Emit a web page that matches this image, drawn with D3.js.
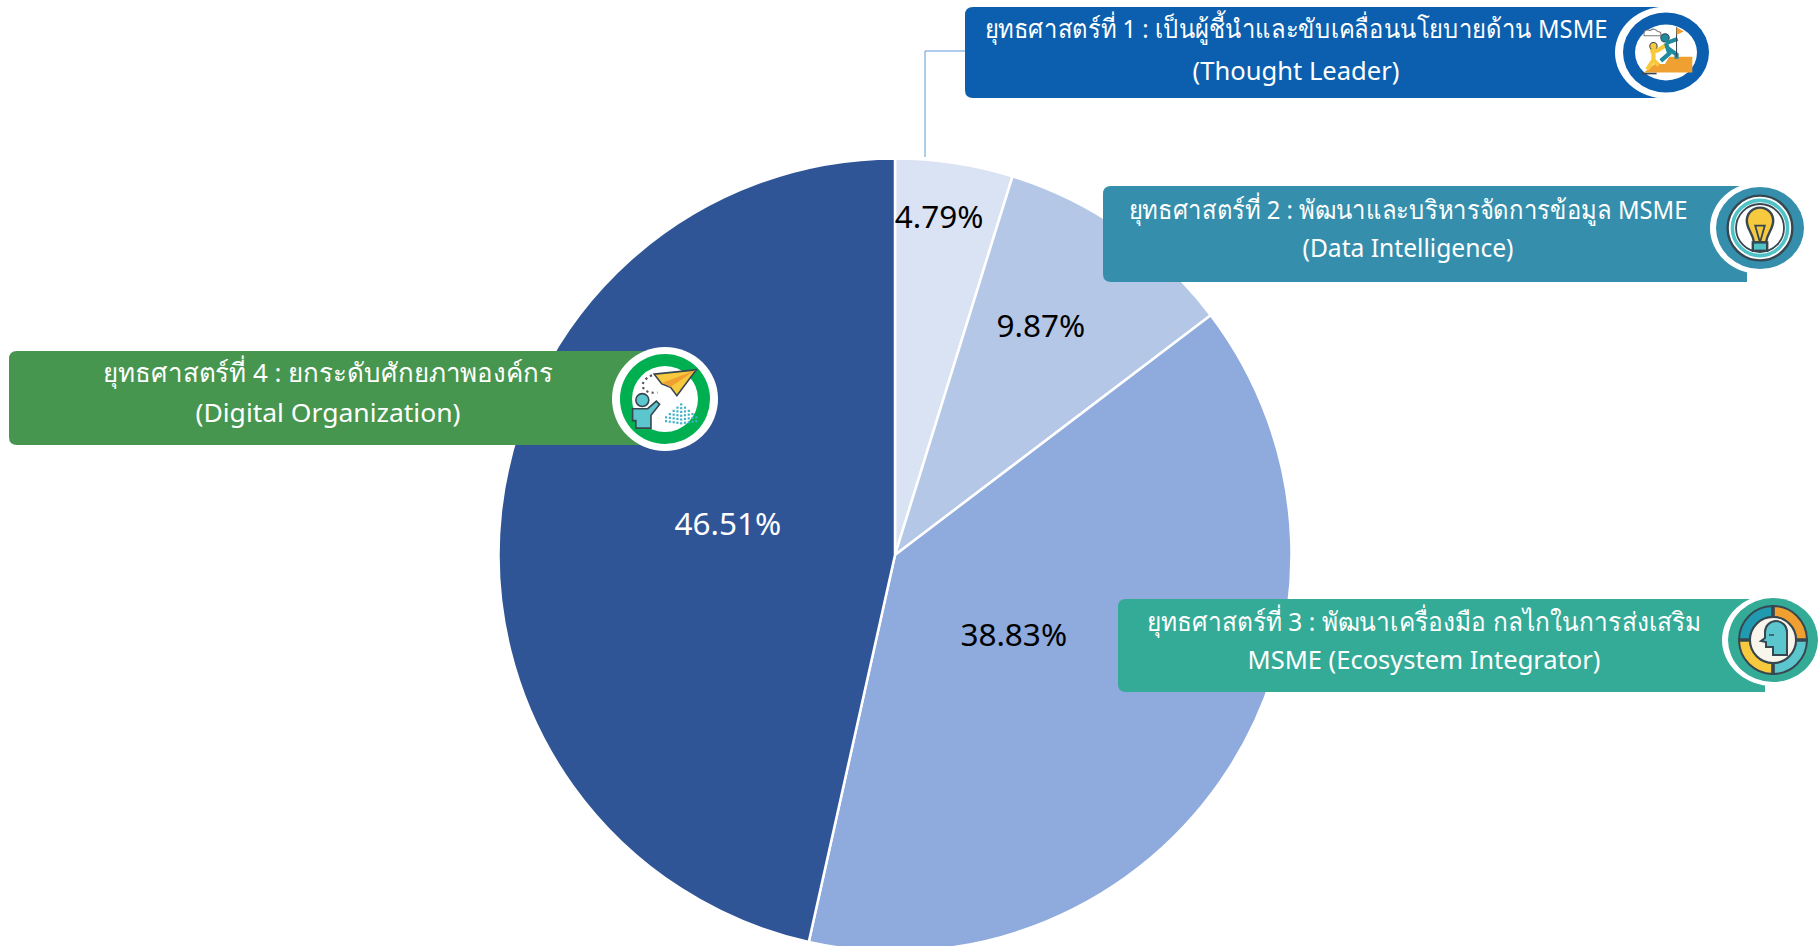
<!DOCTYPE html>
<html>
<head>
<meta charset="utf-8">
<script src="https://cdn.jsdelivr.net/npm/d3@7"></script>
<style>
  html, body { margin: 0; padding: 0; background: #fff; overflow: hidden; }
  text { font-family: Tahoma, "Noto Sans", "Open Sans", sans-serif; }
</style>
</head>
<body>
<div id="chart"></div>
<script>
// chart data
const strategies = ["ยุทธศาสตร์ที่ 1", "ยุทธศาสตร์ที่ 2", "ยุทธศาสตร์ที่ 3", "ยุทธศาสตร์ที่ 4"];
const shares = [4.79, 9.87, 38.83, 46.51];
const bannerLine1 = [
    "ยุทธศาสตร์ที่ 1 : เป็นผู้ชี้นำและขับเคลื่อนนโยบายด้าน MSME",
    "ยุทธศาสตร์ที่ 2 : พัฒนาและบริหารจัดการข้อมูล MSME",
    "ยุทธศาสตร์ที่ 3 : พัฒนาเครื่องมือ กลไกในการส่งเสริม",
    "ยุทธศาสตร์ที่ 4 : ยกระดับศักยภาพองค์กร"
];
const bannerLine2 = [
    "(Thought Leader)",
    "(Data Intelligence)",
    "MSME (Ecosystem Integrator)",
    "(Digital Organization)"
];

// set up svg area
const svgWidth = 1819;
const svgHeight = 946;
const cx = 895;
const cy = 555;
const radius = 396.5;

const svg = d3.select("#chart").append("svg")
    .attr("width", svgWidth)
    .attr("height", svgHeight)
    .style("display", "block");

// pie ------------------------------------------------------------------
const color = d3.scaleOrdinal()
    .domain(strategies)
    .range(["#dae3f3", "#b4c7e7", "#8faadc", "#2f5597"]);

const pie = d3.pie().sort(null);
const arcs = pie(shares);
const arc = d3.arc().innerRadius(0).outerRadius(radius);

const pieG = svg.append("g").attr("transform", `translate(${cx}, ${cy})`);

pieG.selectAll("path")
    .data(arcs)
    .enter()
    .append("path")
    .attr("d", arc)
    .attr("fill", (d, i) => color(strategies[i]))
    .attr("stroke", "#fff")
    .attr("stroke-width", 2.5);

// value labels, pushed along each slice by hand
const labelRadius = [341, 272, 143, 170];
const labelNudge = [-1.2, -2.6, 1.2, 4.3].map(d => d * Math.PI / 180);
const labelColor = ["#000", "#000", "#000", "#fff"];

pieG.selectAll("text")
    .data(arcs)
    .enter()
    .append("text")
    .attr("x", (d, i) => labelRadius[i] * Math.sin((d.startAngle + d.endAngle) / 2 + labelNudge[i]))
    .attr("y", (d, i) => -labelRadius[i] * Math.cos((d.startAngle + d.endAngle) / 2 + labelNudge[i]))
    .attr("dy", "0.36em")
    .attr("text-anchor", "middle")
    .attr("font-size", 31.5)
    .attr("fill", (d, i) => labelColor[i])
    .text((d, i) => shares[i].toFixed(2) + "%");

// leader line from first slice to its banner
svg.append("path")
    .attr("d", "M925,157V51H965")
    .attr("fill", "none")
    .attr("stroke", "#5b9bd5")
    .attr("stroke-width", 1);

// banners --------------------------------------------------------------
const banners = [
    {x: 965, y: 7, right: 1660, h: 91, fill: "#0b5fae", tx: 1296, y1: 29, y2: 71, icx: 1666, icy: 52.5, rx: 43, ry: 40, wx: 51, wy: 46, w1: 623, w2: 207},
    {x: 1103, y: 186, right: 1747, h: 96, fill: "#358fac", tx: 1408, y1: 210, y2: 248, icx: 1760, icy: 228, rx: 44, ry: 41, wx: 50, wy: 46, w1: 559, w2: 211},
    {x: 1118, y: 599, right: 1765, h: 93, fill: "#34ab97", tx: 1424, y1: 622, y2: 660, icx: 1773, icy: 640, rx: 45, ry: 42, wx: 51, wy: 46, w1: 555, w2: 353},
    {x: 9, y: 351, right: 660, h: 94, fill: "#46964f", tx: 328, y1: 373, y2: 413, icx: 665, icy: 399, rx: 45, ry: 45, wx: 53, wy: 52, w1: 450, w2: 265}
];

const bannerG = svg.selectAll("g.banner")
    .data(banners)
    .enter()
    .append("g")
    .classed("banner", true);

bannerG.append("path")
    .attr("d", d => {
        const r = 8;
        return `M${d.x + r},${d.y}H${d.right}V${d.y + d.h}H${d.x + r}Q${d.x},${d.y + d.h} ${d.x},${d.y + d.h - r}V${d.y + r}Q${d.x},${d.y} ${d.x + r},${d.y}Z`;
    })
    .attr("fill", d => d.fill);

bannerG.append("text")
    .attr("x", d => d.tx)
    .attr("y", d => d.y1)
    .attr("dy", "0.36em")
    .attr("text-anchor", "middle")
    .attr("font-size", 26)
    .attr("fill", "#fff")
    .attr("textLength", d => d.w1)
    .attr("lengthAdjust", "spacingAndGlyphs")
    .text((d, i) => bannerLine1[i]);

bannerG.append("text")
    .attr("x", d => d.tx)
    .attr("y", d => d.y2)
    .attr("dy", "0.36em")
    .attr("text-anchor", "middle")
    .attr("font-size", 26)
    .attr("fill", "#fff")
    .attr("textLength", d => d.w2)
    .attr("lengthAdjust", "spacingAndGlyphs")
    .text((d, i) => bannerLine2[i]);

// badge circles with the little icons
const badge = bannerG.append("g")
    .attr("transform", d => `translate(${d.icx}, ${d.icy})`);

badge.append("ellipse")
    .attr("rx", d => d.wx)
    .attr("ry", d => d.wy)
    .attr("fill", "#fff");

badge.append("ellipse")
    .attr("rx", d => d.rx)
    .attr("ry", d => d.ry)
    .attr("fill", d => d.fill === "#46964f" ? "#00b050" : d.fill);

const outline = "#37474f";

// icon 1: two people climbing steps
const b1 = d3.select(badge.nodes()[0]);
b1.append("ellipse").attr("rx", 31).attr("ry", 28).attr("fill", "#fff");
const i1 = b1.append("g").attr("transform", "translate(-1, -1) scale(1.05)");
i1.append("path").attr("d", "M-20,20L-10,12H0L4,5H26V20Z").attr("fill", "#f0a030");
i1.append("path").attr("d", "M-22,21H-8").attr("stroke", outline).attr("stroke-width", 1.5);
i1.append("circle").attr("cx", -11).attr("cy", -5).attr("r", 3.5).attr("fill", "#f7c93e").attr("stroke", outline);
i1.append("path").attr("d", "M-14,0L-7,-1L2,-7M-11,0L-11,8L-17,17M-11,8L-6,13")
    .attr("fill", "none").attr("stroke", "#f7c93e").attr("stroke-width", 4);
i1.append("circle").attr("cx", 0).attr("cy", -13).attr("r", 4).attr("fill", "#1f8a9e").attr("stroke", outline);
i1.append("path").attr("d", "M1,-8L4,2L-4,9M3,-3L11,3V7M1,-8L12,-12")
    .attr("fill", "none").attr("stroke", "#1f8a9e").attr("stroke-width", 4);
i1.append("path").attr("d", "M11,5V-23").attr("stroke", outline).attr("stroke-width", 1);
i1.append("path").attr("d", "M11,-23L18,-19L11,-16Z").attr("fill", "#f0a030");
i1.append("path").attr("d", "M-20,-15Q-21,-22 -14,-20Q-10,-23 -7,-19Q-3,-19 -4,-15Z")
    .attr("fill", "#fff").attr("stroke", "#777").attr("stroke-width", 1);

// icon 2: light bulb in a circuit ring
const i2 = d3.select(badge.nodes()[1]).append("g").attr("transform", "scale(1.2)");
i2.append("circle").attr("r", 27).attr("fill", "#fff");
i2.append("circle").attr("r", 27).attr("fill", "none").attr("stroke", outline).attr("stroke-width", 2);
i2.append("circle").attr("r", 23).attr("fill", "none").attr("stroke", "#4fc3c7").attr("stroke-width", 3);
i2.append("circle").attr("r", 20).attr("fill", "none").attr("stroke", outline).attr("stroke-width", 1.5);
i2.append("path").attr("d", "M-5,12C-6,4 -11,1 -11,-6A11,11 0 1 1 11,-6C11,1 6,4 5,12Z")
    .attr("fill", "#f7c93e").attr("stroke", outline).attr("stroke-width", 2);
i2.append("path").attr("d", "M-4,-2H4L0,12Z").attr("fill", "none").attr("stroke", outline).attr("stroke-width", 1.5);
i2.append("rect").attr("x", -6).attr("y", 12).attr("width", 12).attr("height", 7)
    .attr("fill", "#4fc3c7").attr("stroke", outline).attr("stroke-width", 2);

// icon 3: head inside a four part cycle
const i3 = d3.select(badge.nodes()[2]);
const ringArc = d3.arc().innerRadius(23).outerRadius(34).padAngle(0.04);
const ringColors = ["#f0a030", "#5cc6cf", "#f7c93e", "#1f9ab0"];
ringColors.forEach((c, i) => {
    i3.append("path")
        .attr("d", ringArc({startAngle: i * Math.PI / 2, endAngle: (i + 1) * Math.PI / 2}))
        .attr("fill", c)
        .attr("stroke", outline)
        .attr("stroke-width", 2);
});
i3.append("circle").attr("r", 23).attr("fill", "#f8f5ec").attr("stroke", outline).attr("stroke-width", 2);
i3.append("path").attr("d", "M-8,-2V-8A11,11 0 0 1 14,-8V15H0V7H-7V2L-12,1Z")
    .attr("fill", "#5cc6cf").attr("stroke", outline).attr("stroke-width", 2);
i3.append("path").attr("d", "M-4,-5H1").attr("stroke", outline).attr("stroke-width", 1.5);

// icon 4: person throwing a paper plane
const b4 = d3.select(badge.nodes()[3]);
b4.append("ellipse").attr("rx", 33).attr("ry", 33).attr("fill", "#fff");
const i4 = b4.append("g").attr("transform", "scale(1.08)");
i4.append("path").attr("d", "M-10,-23L29,-27L11,-3L5,-11L2,-12L-3,-14Z")
    .attr("fill", "#f7c93e").attr("stroke", outline).attr("stroke-width", 1.5);
i4.append("path").attr("d", "M-2,-15L29,-27L5,-11Z").attr("fill", "#f0a030");
i4.append("path").attr("d", "M-12,-22C-26,-16 -22,-4 -7,-6")
    .attr("fill", "none").attr("stroke", "#555").attr("stroke-width", 2).attr("stroke-dasharray", "2,3");
i4.append("circle").attr("cx", -21).attr("cy", 1).attr("r", 6).attr("fill", "#5cc6cf").attr("stroke", outline).attr("stroke-width", 1.5);
i4.append("path").attr("d", "M-30,9H-16L-8,2L-5,5L-13,15V27H-27V20H-30Z")
    .attr("fill", "#5cc6cf").attr("stroke", outline).attr("stroke-width", 1.5);
// dotted arrow, just small squares
d3.range(-4, 5).forEach(col => {
    d3.range(0, 6 - Math.abs(col)).forEach(row => {
        i4.append("rect")
            .attr("x", 14 + col * 3.5)
            .attr("y", 4 + Math.abs(col) * 3 + row * 3.5)
            .attr("width", 2)
            .attr("height", 2)
            .attr("fill", "#3fb2c6");
    });
});
</script>
</body>
</html>
